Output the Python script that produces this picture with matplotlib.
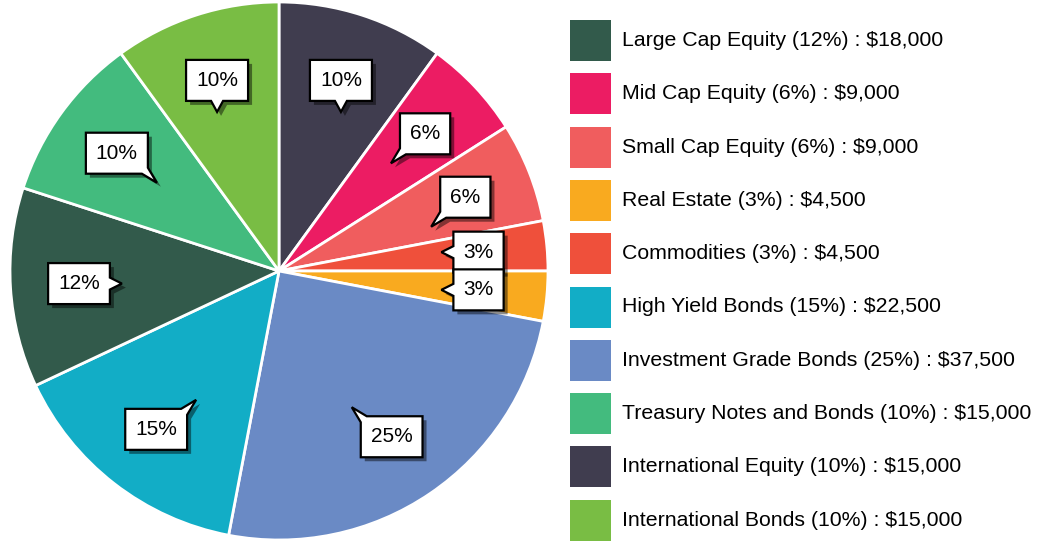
import numpy as np
import matplotlib
matplotlib.use("Agg")
import matplotlib.pyplot as plt
from matplotlib.patches import Polygon, Rectangle

plt.rcParams['font.family'] = ['Liberation Sans', 'DejaVu Sans']

# legend order
names = ["Large Cap Equity", "Mid Cap Equity", "Small Cap Equity", "Real Estate",
         "Commodities", "High Yield Bonds", "Investment Grade Bonds",
         "Treasury Notes and Bonds", "International Equity", "International Bonds"]
percents = [12, 6, 6, 3, 3, 15, 25, 10, 10, 10]
amounts = [18000, 9000, 9000, 4500, 4500, 22500, 37500, 15000, 15000, 15000]
colors = ["#325a4b", "#ec1c63", "#f05d5e", "#f9aa1f", "#ef503b",
          "#12adc6", "#6a8ac5", "#43bb7e", "#403d4f", "#79bd44"]

# order of slices clockwise from the top of the pie
pie_order = ["International Equity", "Mid Cap Equity", "Small Cap Equity", "Commodities",
             "Real Estate", "Investment Grade Bonds", "High Yield Bonds",
             "Large Cap Equity", "Treasury Notes and Bonds", "International Bonds"]

W, H = 1051, 542
fig = plt.figure(figsize=(W / 100, H / 100), dpi=100)
ax = fig.add_axes([0, 0, 1, 1])

idx = [names.index(n) for n in pie_order]
pvals = [amounts[i] for i in idx]
pcols = [colors[i] for i in idx]
plabels = [f"{percents[i]}%" for i in idx]

cx, cy, R = 279, 271, 269
wedges, _ = ax.pie(pvals, colors=pcols, startangle=90, counterclock=False,
                   center=(cx, cy), radius=R,
                   wedgeprops=dict(edgecolor="white", linewidth=2))
ax.set_xlim(0, W)
ax.set_ylim(0, H)
ax.set_aspect("equal")
ax.axis("off")

renderer = fig.canvas.get_renderer()


def insert_tail(pts, k, tip, kind, s=6):
    # 'corner': replace vertex k; 'edge': insert at the middle of edge k -> k+1
    n = len(pts)
    if kind == "corner":
        P = np.array(pts[k])
        A = np.array(pts[k - 1])
        B = np.array(pts[(k + 1) % n])
        a = P + s * (A - P) / np.linalg.norm(A - P)
        b = P + s * (B - P) / np.linalg.norm(B - P)
        return pts[:k] + [tuple(a), tip, tuple(b)] + pts[k + 1:]
    A = np.array(pts[k])
    B = np.array(pts[(k + 1) % n])
    M = (A + B) / 2
    u = (B - A) / np.linalg.norm(B - A)
    return pts[:k + 1] + [tuple(M - s * u), tip, tuple(M + s * u)] + pts[k + 1:]


hh = 20.5
for w, lab in zip(wedges, plabels):
    a = np.deg2rad((w.theta1 + w.theta2) / 2)
    dx, dy = np.cos(a), np.sin(a)
    bx, by = cx + 0.745 * R * dx, cy + 0.745 * R * dy
    t = ax.text(bx, by, lab, fontsize=15, ha="center", va="center", zorder=6)
    tw = t.get_window_extent(renderer).width
    hw = tw / 2 + 10
    sx = 1 if dx > 0 else -1
    sy = 1 if dy > 0 else -1
    x0, x1, y0, y1 = bx - hw, bx + hw, by - hh, by + hh
    pts = [(x0, y0), (x1, y0), (x1, y1), (x0, y1)]  # BL, BR, TR, TL
    if abs(dx) < 0.35:
        tip = (bx, by - sy * (hh + 11))
        pts = insert_tail(pts, 0 if sy > 0 else 2, tip, "edge")
    elif abs(dy) < 0.35:
        tip = (bx - sx * (hw + 12), by)
        pts = insert_tail(pts, 3 if sx > 0 else 1, tip, "edge")
    else:
        tip = (bx - sx * (hw + 9), by - sy * (hh + 9))
        k = {(1, 1): 0, (-1, 1): 1, (-1, -1): 2, (1, -1): 3}[(sx, sy)]
        pts = insert_tail(pts, k, tip, "corner")
    shadow = [(p[0] + 4, p[1] - 4) for p in pts]
    ax.add_patch(Polygon(shadow, closed=True, facecolor=(0, 0, 0, 0.45),
                         edgecolor="none", zorder=4))
    ax.add_patch(Polygon(pts, closed=True, facecolor="white", edgecolor="black",
                         linewidth=1.6, joinstyle="miter", zorder=5))

# legend
row0, step, sq = H - 40.5, 53.3, 41
for i, (n, p, v, c) in enumerate(zip(names, percents, amounts, colors)):
    yc = row0 - i * step
    ax.add_patch(Rectangle((570, yc - sq / 2), sq, sq, facecolor=c, edgecolor="none"))
    ax.text(622, yc, f"{n} ({p}%) : ${v:,}", fontsize=15.3, va="center", ha="left")

fig.savefig("out.png", dpi=100)
